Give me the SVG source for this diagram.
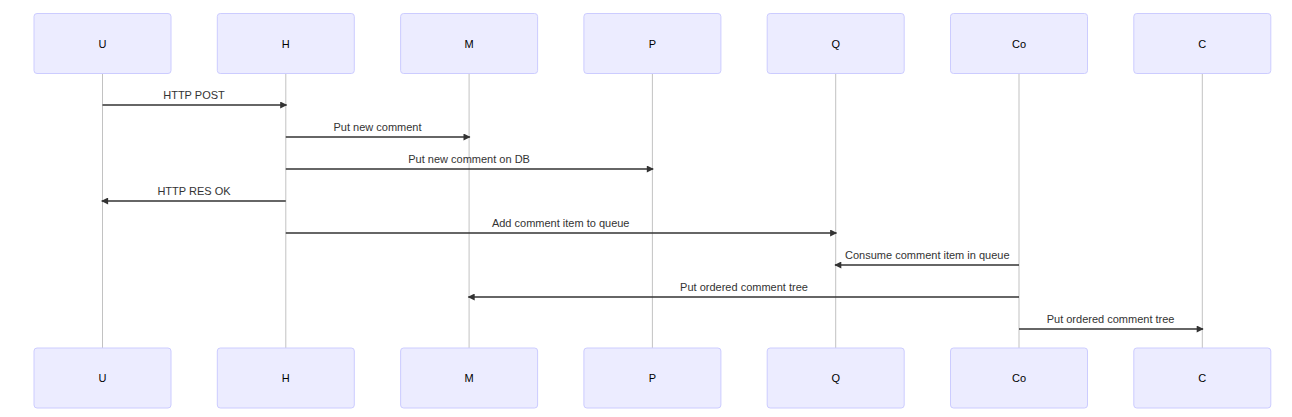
<svg xmlns="http://www.w3.org/2000/svg" width="1292" height="417" viewBox="0 0 1292 417">
<style>
.actor{fill:#ECECFF;stroke:#CCCCFF;stroke-width:1}
.alabel{font-family:"Liberation Sans",Arial,sans-serif;font-size:11px;fill:#000;text-anchor:middle}
.life{stroke:#999;stroke-width:0.6}
.msg{stroke:#333;stroke-width:1.5;fill:none}
.mtext{font-family:"Liberation Sans",Arial,sans-serif;font-size:11px;fill:#333;text-anchor:middle}
</style>
<defs>
<marker id="arrow" viewBox="0 0 10 10" refX="9" refY="5" markerUnits="userSpaceOnUse" markerWidth="9" markerHeight="7" orient="auto">
<path d="M0,0 L10,5 L0,10 z" fill="#333"/>
</marker>
</defs>
<rect width="1292" height="417" fill="#fff"/>
<g id="lifelines">
<line class="life" x1="102.5" y1="73" x2="102.5" y2="348"/>
<line class="life" x1="285.8" y1="73" x2="285.8" y2="348"/>
<line class="life" x1="469.1" y1="73" x2="469.1" y2="348"/>
<line class="life" x1="652.4" y1="73" x2="652.4" y2="348"/>
<line class="life" x1="835.7" y1="73" x2="835.7" y2="348"/>
<line class="life" x1="1019" y1="73" x2="1019" y2="348"/>
<line class="life" x1="1202.3" y1="73" x2="1202.3" y2="348"/>
</g>
<g id="node-U">
<rect class="actor" x="34" y="13.5" width="137" height="60" rx="3"/><text class="alabel" x="102.5" y="47.5">U</text>
<rect class="actor" x="34" y="348" width="137" height="60" rx="3"/><text class="alabel" x="102.5" y="382">U</text>
</g>
<g id="node-H">
<rect class="actor" x="217.3" y="13.5" width="137" height="60" rx="3"/><text class="alabel" x="285.8" y="47.5">H</text>
<rect class="actor" x="217.3" y="348" width="137" height="60" rx="3"/><text class="alabel" x="285.8" y="382">H</text>
</g>
<g id="node-M">
<rect class="actor" x="400.6" y="13.5" width="137" height="60" rx="3"/><text class="alabel" x="469.1" y="47.5">M</text>
<rect class="actor" x="400.6" y="348" width="137" height="60" rx="3"/><text class="alabel" x="469.1" y="382">M</text>
</g>
<g id="node-P">
<rect class="actor" x="583.9" y="13.5" width="137" height="60" rx="3"/><text class="alabel" x="652.4" y="47.5">P</text>
<rect class="actor" x="583.9" y="348" width="137" height="60" rx="3"/><text class="alabel" x="652.4" y="382">P</text>
</g>
<g id="node-Q">
<rect class="actor" x="767.2" y="13.5" width="137" height="60" rx="3"/><text class="alabel" x="835.7" y="47.5">Q</text>
<rect class="actor" x="767.2" y="348" width="137" height="60" rx="3"/><text class="alabel" x="835.7" y="382">Q</text>
</g>
<g id="node-Co">
<rect class="actor" x="950.5" y="13.5" width="137" height="60" rx="3"/><text class="alabel" x="1019" y="47.5">Co</text>
<rect class="actor" x="950.5" y="348" width="137" height="60" rx="3"/><text class="alabel" x="1019" y="382">Co</text>
</g>
<g id="node-C">
<rect class="actor" x="1133.8" y="13.5" width="137" height="60" rx="3"/><text class="alabel" x="1202.3" y="47.5">C</text>
<rect class="actor" x="1133.8" y="348" width="137" height="60" rx="3"/><text class="alabel" x="1202.3" y="382">C</text>
</g>
<g id="connectors">
<line class="msg" x1="102.5" y1="105" x2="286.5" y2="105" marker-end="url(#arrow)"/>
<text class="mtext" x="194" y="99">HTTP POST</text>
<line class="msg" x1="285.8" y1="137" x2="469.8" y2="137" marker-end="url(#arrow)"/>
<text class="mtext" x="377.5" y="131">Put new comment</text>
<line class="msg" x1="285.8" y1="169" x2="653.1" y2="169" marker-end="url(#arrow)"/>
<text class="mtext" x="469.1" y="163">Put new comment on DB</text>
<line class="msg" x1="285.8" y1="201" x2="101.8" y2="201" marker-end="url(#arrow)"/>
<text class="mtext" x="194" y="195">HTTP RES OK</text>
<line class="msg" x1="285.8" y1="233" x2="836.4" y2="233" marker-end="url(#arrow)"/>
<text class="mtext" x="560.7" y="227">Add comment item to queue</text>
<line class="msg" x1="1019" y1="265" x2="835" y2="265" marker-end="url(#arrow)"/>
<text class="mtext" x="927.3" y="259">Consume comment item in queue</text>
<line class="msg" x1="1019" y1="297" x2="468.4" y2="297" marker-end="url(#arrow)"/>
<text class="mtext" x="744" y="291">Put ordered comment tree</text>
<line class="msg" x1="1019" y1="329" x2="1203" y2="329" marker-end="url(#arrow)"/>
<text class="mtext" x="1110.6" y="323">Put ordered comment tree</text>
</g>
</svg>
